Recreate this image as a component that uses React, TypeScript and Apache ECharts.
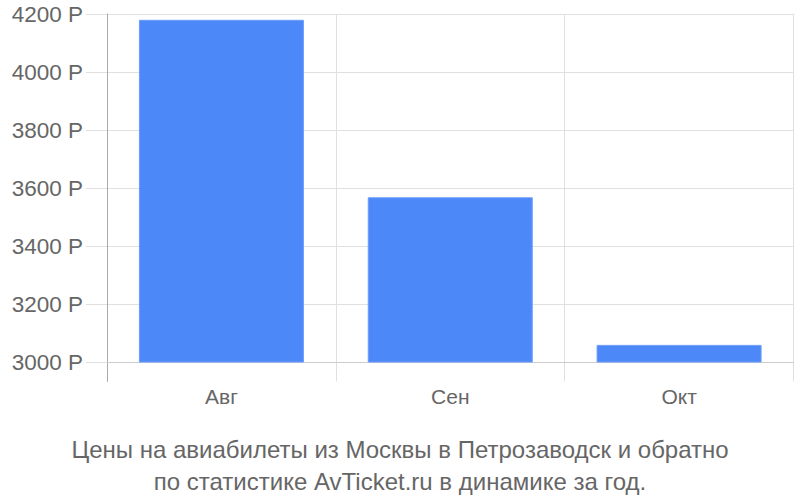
import { useEffect, useRef } from 'react'
import * as echarts from 'echarts'

const months = ['Авг', 'Сен', 'Окт']
const prices = [4180, 3568, 3059]
const priceTicks = { min: 3000, max: 4200, step: 200 }
const captionLines = [
  'Цены на авиабилеты из Москвы в Петрозаводск и обратно',
  'по статистике AvTicket.ru в динамике за год.'
]

export default function App() {
  const ref = useRef<HTMLDivElement>(null)

  useEffect(() => {
    if (!ref.current) return
    document.body.style.margin = '0'
    const chart = echarts.init(ref.current, null, { renderer: 'svg' })
    chart.setOption(buildOption())
    return () => chart.dispose()
  }, [])

  return <div ref={ref} style={{ width: 800, height: 500 }} />
}

function buildOption() {
  const font = "'Liberation Sans', Arial, sans-serif"
  const grid = '#e0e0e0'

  return {
    animation: false,
    backgroundColor: '#fff',
    textStyle: { fontFamily: font },
    title: {
      text: captionLines.join('\n'),
      left: 'center',
      top: 428,
      textStyle: {
        fontFamily: font,
        fontSize: 24,
        lineHeight: 32,
        fontWeight: 'normal',
        color: '#666'
      }
    },
    grid: [
      // outer frame: vertical lines down to 381
      { left: 107, right: 6.5, top: 14, bottom: 118.5 },
      // value area: 3000..4200
      { left: 107, right: 6.5, top: 14, bottom: 138 }
    ],
    xAxis: [
      {
        type: 'category',
        gridIndex: 0,
        data: months,
        axisLine: { show: false },
        axisTick: { show: false },
        splitLine: { show: true, lineStyle: { color: grid } },
        axisLabel: { fontSize: 21, color: '#666', margin: 4, fontFamily: font }
      },
      {
        type: 'category',
        gridIndex: 1,
        data: months,
        axisLine: { show: true, lineStyle: { color: '#ccc' } },
        axisTick: { show: false },
        axisLabel: { show: false },
        splitLine: { show: false }
      }
    ],
    yAxis: [
      {
        type: 'value',
        gridIndex: 0,
        min: 0,
        max: 1,
        axisLine: { show: true, lineStyle: { color: '#aaa' } },
        axisTick: { show: false },
        axisLabel: { show: false },
        splitLine: { show: false }
      },
      {
        type: 'value',
        gridIndex: 1,
        min: priceTicks.min,
        max: priceTicks.max,
        interval: priceTicks.step,
        axisLine: { show: false },
        axisTick: { show: true, length: 21, lineStyle: { color: grid } },
        splitLine: { show: true, lineStyle: { color: grid } },
        axisLabel: {
          fontSize: 22.5,
          color: '#666',
          margin: 24,
          fontFamily: font,
          formatter: (v: number) => `${v} Р`
        }
      }
    ],
    series: [
      {
        type: 'bar',
        xAxisIndex: 1,
        yAxisIndex: 1,
        data: prices,
        barWidth: 165,
        itemStyle: { color: '#4d88f9', borderColor: '#6d9cfa', borderWidth: 1 }
      }
    ]
  }
}
